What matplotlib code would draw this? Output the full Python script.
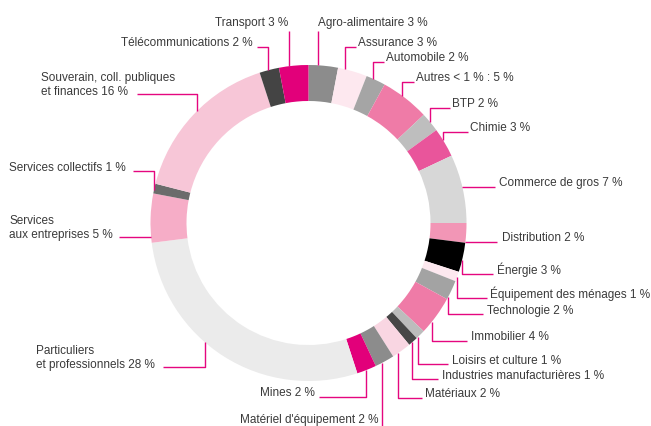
import numpy as np
import matplotlib.pyplot as plt

plt.rcParams['font.family'] = ['Liberation Sans', 'DejaVu Sans']

# sector breakdown, clockwise from 12 o'clock
sectors = ["Agro-alimentaire", "Assurance", "Automobile", "Autres < 1 % :", "BTP",
           "Chimie", "Commerce de gros", "Distribution", "Énergie",
           "Équipement des ménages", "Technologie", "Immobilier",
           "Loisirs et culture", "Industries manufacturières", "Matériaux",
           "Matériel d'équipement", "Mines", "Particuliers\net professionnels",
           "Services\naux entreprises", "Services collectifs",
           "Souverain, coll. publiques\net finances", "Télécommunications",
           "Transport"]
shares = [3, 3, 2, 5, 2, 3, 7, 2, 3, 1, 2, 4, 1, 1, 2, 2, 2, 28, 5, 1, 16, 2, 3]
colors = ["#8c8c8c", "#fde8ef", "#a5a5a5", "#ef7ba7", "#bebebe", "#e9559b",
          "#d7d7d7", "#f296b6", "#000000", "#fde8ef", "#a3a3a3", "#ef7ba7",
          "#bcbcbc", "#474747", "#f9d6e2", "#8c8c8c", "#e2007a", "#ebebeb",
          "#f6adc7", "#6b6b6b", "#f7c6d7", "#444444", "#e2007a"]

# leader layout in pixels: first leg direction, points after the ring, text anchor
layout = [
    ('v', [(318, 31)], (318, 23, 'left')),
    ('v', [(345, 47), (356, 47)], (358, 43, 'left')),
    ('v', [(373, 62), (384, 62)], (386, 58, 'left')),
    ('v', [(402, 82), (414, 82)], (416, 78, 'left')),
    ('v', [(430, 108), (450, 108)], (452, 104, 'left')),
    ('v', [(443, 132), (468, 132)], (470, 128, 'left')),
    ('h', [(495, 187)], (499, 183, 'left')),
    ('h', [(497, 242)], (502, 238, 'left')),
    ('v', [(462, 274), (493, 274)], (497, 270, 'left')),
    ('v', [(457, 298), (487, 298)], (490, 294, 'left')),
    ('v', [(448, 314), (483, 314)], (487, 311, 'left')),
    ('v', [(432, 341), (467, 341)], (471, 337, 'left')),
    ('v', [(418, 364), (448, 364)], (452, 361, 'left')),
    ('v', [(412, 379), (438, 379)], (442, 376, 'left')),
    ('v', [(398, 398), (422, 398)], (425, 394, 'left')),
    ('v', [(382, 430)], (378, 420, 'right')),
    ('v', [(366, 397), (319, 397)], (315, 393, 'right')),
    ('v', [(205, 367), (163, 367)], (36, 358, 'left')),
    ('h', [(119, 237)], (9, 228, 'left')),
    ('v', [(154, 171), (133, 171)], (9, 168, 'left')),
    ('v', [(197, 94), (137, 94)], (41, 85, 'left')),
    ('v', [(268, 47), (257, 47)], (253, 43, 'right')),
    ('v', [(289, 31)], (288, 23, 'right')),
]

W, H = 651, 426
cx, cy, R, ring = 308.5, 223, 158, 36
line_col = '#e5067f'
text_col = '#3a3a3a'

fig = plt.figure(figsize=(W / 100, H / 100), dpi=100)
ax = fig.add_axes([0, 0, 1, 1])

# y axis runs downward, so counterclock here draws clockwise on screen
ax.pie(shares, colors=colors, startangle=-90, counterclock=True,
       radius=R, center=(cx, cy),
       wedgeprops=dict(width=ring, linewidth=0))

for name, v, (leg, pts, (tx, ty, ha)) in zip(sectors, shares, layout):
    x1, y1 = pts[0]
    if leg == 'v':
        d = np.sqrt(max(R ** 2 - (x1 - cx) ** 2, 0))
        start = (x1, cy - d if y1 < cy else cy + d)
    else:
        d = np.sqrt(max(R ** 2 - (y1 - cy) ** 2, 0))
        start = (cx - d if x1 < cx else cx + d, y1)
    xs = [start[0]] + [p[0] for p in pts]
    ys = [start[1]] + [p[1] for p in pts]
    ax.plot(xs, ys, color=line_col, lw=1.0, solid_capstyle='butt', clip_on=False)
    ax.text(tx, ty, f"{name} {v} %", ha=ha, va='center', fontsize=8.5,
            color=text_col, linespacing=1.12)

ax.set_xlim(0, W)
ax.set_ylim(H, 0)
ax.set_aspect('equal')
ax.axis('off')

fig.savefig('out.png', dpi=100)
